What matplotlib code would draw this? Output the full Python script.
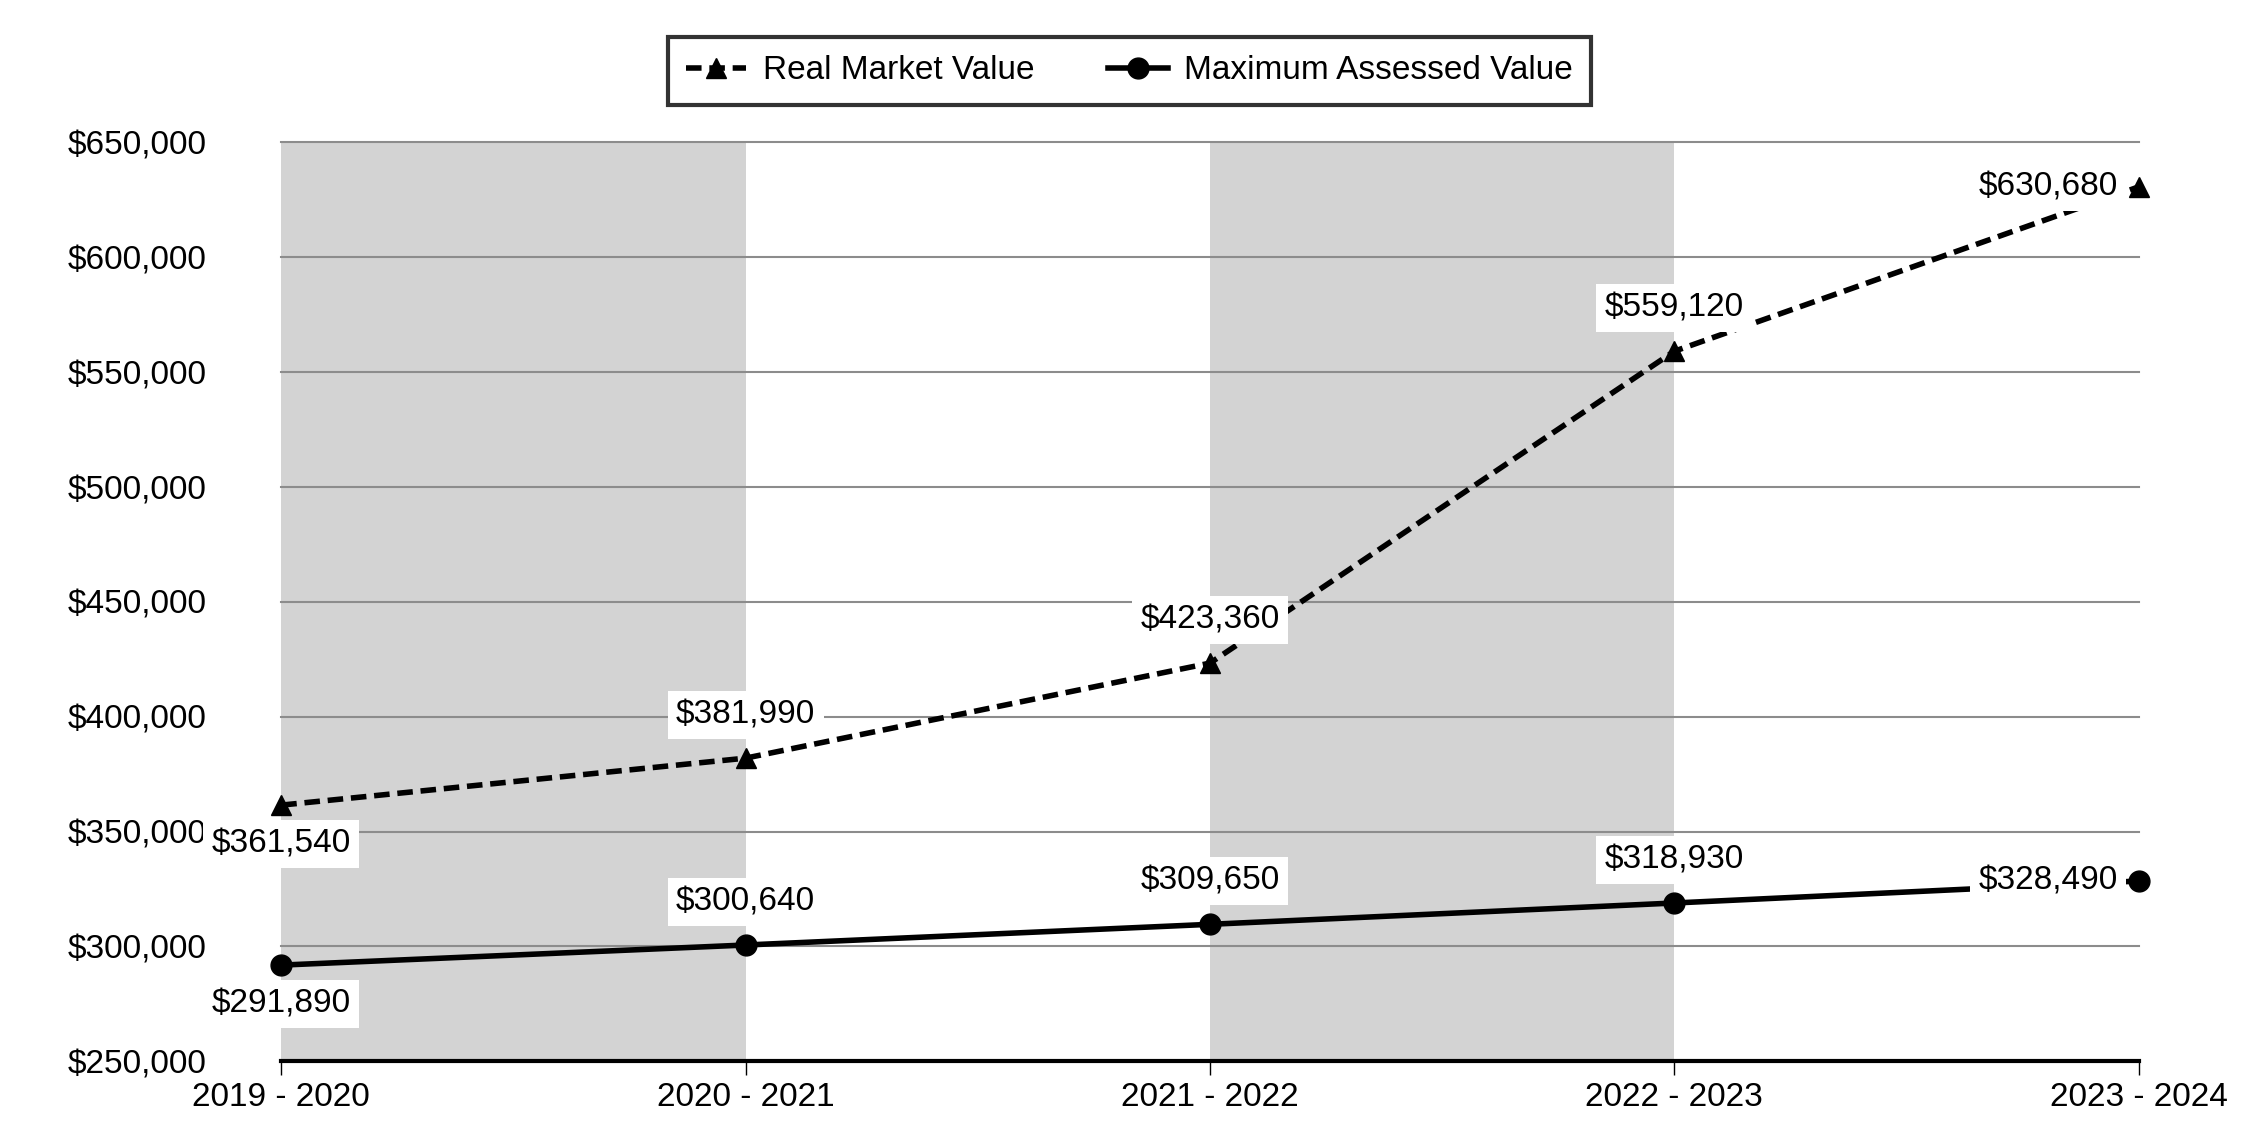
import matplotlib.pyplot as plt

plt.rcParams['font.family'] = ['Liberation Sans', 'DejaVu Sans']

years = ['2019 - 2020', '2020 - 2021', '2021 - 2022', '2022 - 2023', '2023 - 2024']
real_market = [361540, 381990, 423360, 559120, 630680]
max_assessed = [291890, 300640, 309650, 318930, 328490]

# where each data label sits relative to its point
rmv_pos = ['below', 'above', 'above', 'above', 'left']
mav_pos = ['below', 'above', 'above', 'above', 'left']

fig = plt.figure(figsize=(22.5, 11.4), dpi=100)
ax = fig.add_axes([0.125, 0.069, 0.8255, 0.806])

x = list(range(len(years)))

# alternating shaded bands
for i in range(0, len(years) - 1, 2):
    ax.axvspan(i, i + 1, color='#d3d3d3', zorder=0, lw=0)

ax.set_ylim(250000, 650000)
ax.set_xlim(0, len(years) - 1)
yt = list(range(250000, 650001, 50000))
ax.set_yticks(yt)
ax.set_yticklabels(['${:,}'.format(v) for v in yt])
for v in yt[1:]:
    ax.axhline(v, color='#8c8c8c', lw=1.5, zorder=1, clip_on=False)

ax.plot(x, real_market, color='black', lw=4, ls=(0, (2.8, 1.4)), marker='^',
        markersize=14, label='Real Market Value', zorder=3, clip_on=False)
ax.plot(x, max_assessed, color='black', lw=4, marker='o',
        markersize=15, label='Maximum Assessed Value', zorder=3, clip_on=False)

offsets = {'above': ((0, 31), 'center'), 'below': ((0, -28), 'center'),
           'left': ((-15, 0), 'right')}


def label(xs, ys, positions):
    for xi, yi, p in zip(xs, ys, positions):
        (dx, dy), ha = offsets[p]
        ax.annotate('${:,}'.format(yi), (xi, yi), xytext=(dx, dy), textcoords='offset points',
                    ha=ha, va='center', fontsize=24, zorder=4,
                    bbox=dict(boxstyle='square,pad=0.25', fc='white', ec='none'))


label(x, real_market, rmv_pos)
label(x, max_assessed, mav_pos)

ax.set_xticks(x)
ax.set_xticklabels(years)
for s in ['left', 'top', 'right']:
    ax.spines[s].set_visible(False)
ax.spines['bottom'].set_linewidth(3)
ax.spines['bottom'].set_zorder(5)
ax.tick_params(axis='y', length=0, pad=54, labelsize=24)
ax.tick_params(axis='x', length=10, width=1, direction='out', pad=5, labelsize=24)

leg = fig.legend(loc='center', bbox_to_anchor=(0.502, 0.938), ncol=2, fontsize=24,
                 frameon=True, fancybox=False, edgecolor='black', handlelength=1.8,
                 handletextpad=0.5, columnspacing=2.2, borderpad=0.55)
leg.get_frame().set_linewidth(3)

fig.savefig('out.png', dpi=100)
